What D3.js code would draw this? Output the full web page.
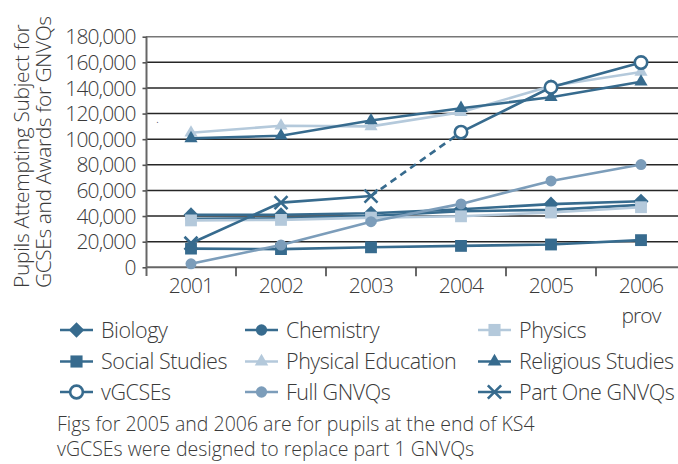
<!DOCTYPE html>
<html>
<meta http-equiv="content-type" content="text/html; charset=utf-8" />
<head>
  <title>Pupils attempting subjects</title>
</head>
<style>
body { margin: 0; background: #fff; }
svg text { font-family: "Open Sans", sans-serif; font-weight: 300; fill: #3a3a3a; }
.grid line { stroke: #262626; stroke-width: 1.6; }
.sline { fill: none; stroke-width: 2.6; }
</style>
<body>
<svg class="chart" width="678" height="464"></svg>
<script src="https://d3js.org/d3.v7.min.js"></script>
<script type="text/javascript">
// years on the x axis
var years = ["2001", "2002", "2003", "2004", "2005", "2006"];
var yTicks = [0, 20000, 40000, 60000, 80000, 100000, 120000, 140000, 160000, 180000];

var biology      = [40900, 41000, 42200, 45300, 49300, 51500];
var chemistry    = [37800, 38300, 40100, 43800, 44800, 48700];
var physics      = [36600, 37000, 38800, 39800, 42800, 46900];
var socialStud   = [14600, 14200, 15600, 16700, 17800, 21200];
var physicalEd   = [105000, 110500, 110000, 121000, 141500, 152500];
var religious    = [100600, 102700, 114600, 124200, 132800, 144800];
var vGCSEs       = [null, null, null, 105500, 140500, 159800];
var fullGNVQs    = [2700, 17400, 35600, 49500, 67400, 80200];
var partOneGNVQs = [18800, 50500, 55600, null, null, null];

var dark = "#376b8e", mid = "#7c9dba", light = "#b4c9db";

var series = [
  {name: "Biology", values: biology, color: dark, marker: "diamond"},
  {name: "Chemistry", values: chemistry, color: dark, marker: "circle"},
  {name: "Physics", values: physics, color: light, marker: "square"},
  {name: "Social Studies", values: socialStud, color: dark, marker: "square"},
  {name: "Physical Education", values: physicalEd, color: light, marker: "triangle"},
  {name: "Religious Studies", values: religious, color: dark, marker: "triangle"},
  {name: "vGCSEs", values: vGCSEs, color: dark, marker: "open"},
  {name: "Full GNVQs", values: fullGNVQs, color: mid, marker: "circle"},
  {name: "Part One GNVQs", values: partOneGNVQs, color: dark, marker: "cross"}
];

var svg = d3.select(".chart");

var x = d3.scaleBand().domain(years).range([146, 686]);
var y = d3.scaleLinear().domain([0, 180000]).range([267.3, 36.7]);
function cx(i) { return x(years[i]) + x.bandwidth() / 2; }

// grid lines
svg.append("g").attr("class", "grid")
  .selectAll("line").data(yTicks.slice(1)).enter()
  .append("line")
    .attr("x1", 146).attr("x2", 690)
    .attr("y1", function(d) { return y(d); })
    .attr("y2", function(d) { return y(d); })
    .style("stroke", function(d) { return d === 180000 ? "#777" : null; });

// y axis
var yAxis = d3.axisLeft(y).tickValues(yTicks).tickSize(4).tickSizeOuter(0)
  .tickFormat(d3.format(","));
var gy = svg.append("g").attr("transform", "translate(146.5,0)").call(yAxis);
gy.select(".domain").attr("stroke", "#666").attr("stroke-width", 2).attr("d", "M0,36.7V276");
gy.selectAll(".tick line").attr("stroke", "#555").attr("stroke-width", 1.6);
gy.selectAll(".tick text").attr("x", -11).attr("dy", "0.34em")
  .style("font-size", "21px").style("letter-spacing", "-0.9px");

// x axis with ticks between the years
var xAxis = d3.axisBottom(x).tickSize(0);
var gx = svg.append("g").attr("transform", "translate(0,267.3)").call(xAxis);
gx.select(".domain").attr("stroke", "#666").attr("stroke-width", 2).attr("d", "M146,0H690");
gx.selectAll(".tick text").attr("y", 11).attr("dy", "0.71em")
  .style("font-size", "21px").style("letter-spacing", "-0.9px");
gx.selectAll(".sep").data(years.slice(1)).enter()
  .append("line").attr("class", "sep")
    .attr("x1", function(d) { return x(d); }).attr("x2", function(d) { return x(d); })
    .attr("y1", 0).attr("y2", 9)
    .attr("stroke", "#444").attr("stroke-width", 1.6);
svg.append("text")
  .attr("x", cx(5)).attr("y", 323)
  .attr("text-anchor", "middle")
  .style("font-size", "21px").style("letter-spacing", "-0.9px")
  .text("prov");

// y title
svg.append("text")
  .attr("transform", "translate(29,288) rotate(-90)")
  .style("font-size", "21px").style("letter-spacing", "-0.35px")
  .text("Pupils Attempting Subject for");
svg.append("text")
  .attr("transform", "translate(51,288) rotate(-90)")
  .style("font-size", "21px").style("letter-spacing", "-0.45px")
  .text("GCSEs and Awards for GNVQs");
svg.append("text").attr("x", 156).attr("y", 123).style("font-size", "12px").text(".");

// marker drawing
function drawMarker(g, type, color, px, py, scale) {
  scale = scale || 1;
  var sym;
  if (type === "diamond") sym = d3.symbol().type(d3.symbolSquare).size(115 * scale);
  if (type === "square") sym = d3.symbol().type(d3.symbolSquare).size(140 * scale);
  if (type === "circle") sym = d3.symbol().type(d3.symbolCircle).size(95 * scale);
  if (type === "triangle") sym = d3.symbol().type(d3.symbolTriangle).size(75 * scale);
  if (type === "open") {
    g.append("circle").attr("cx", px).attr("cy", py).attr("r", 6.2 * Math.sqrt(scale))
      .style("fill", "#fff").style("stroke", color).style("stroke-width", 2.6);
    return;
  }
  if (type === "cross") {
    var s = 6.5 * Math.sqrt(scale);
    g.append("path")
      .attr("d", "M" + (px - s) + "," + (py - s) + "L" + (px + s) + "," + (py + s) +
                 "M" + (px - s) + "," + (py + s) + "L" + (px + s) + "," + (py - s))
      .style("stroke", color).style("stroke-width", 2.6).style("fill", "none");
    return;
  }
  var rot = type === "diamond" ? " rotate(45)" : "";
  g.append("path").attr("d", sym())
    .attr("transform", "translate(" + px + "," + py + ")" + rot)
    .style("fill", color).style("stroke", "none");
}

var line = d3.line()
  .defined(function(d) { return d != null; })
  .x(function(d, i) { return cx(i); })
  .y(function(d) { return y(d); });

// dashed link between part one GNVQs 2003 and vGCSEs 2004
svg.append("line")
  .attr("x1", cx(2)).attr("y1", y(partOneGNVQs[2]))
  .attr("x2", cx(3)).attr("y2", y(vGCSEs[3]))
  .attr("stroke", dark).attr("stroke-width", 2.6)
  .attr("stroke-dasharray", "7,5");

series.forEach(function(s) {
  var g = svg.append("g");
  g.append("path").attr("class", "sline").datum(s.values).attr("d", line).attr("stroke", s.color);
  s.values.forEach(function(v, i) {
    if (v != null) drawMarker(g, s.marker, s.color, cx(i), y(v));
  });
});

// legend
var legX = [60, 245, 478];
var legY = [330, 361.5, 392];
series.forEach(function(s, i) {
  var lx = legX[i % 3], ly = legY[Math.floor(i / 3)];
  var g = svg.append("g");
  g.append("path").attr("class", "sline").attr("d", "M" + lx + "," + ly + "H" + (lx + 33))
    .attr("stroke", s.color);
  drawMarker(g, s.marker, s.color, lx + 16.5, ly, 1.05);
  svg.append("text")
    .attr("x", lx + 41).attr("y", ly).attr("dy", "0.36em")
    .style("font-size", "21.5px").style("letter-spacing", "-0.45px")
    .text(s.name);
});

// notes
var notes = ["Figs for 2005 and 2006 are for pupils at the end of KS4",
             "vGCSEs were designed to replace part 1 GNVQs"];
svg.selectAll(".note").data(notes).enter()
  .append("text").attr("class", "note")
    .attr("x", 57).attr("y", function(d, i) { return 431 + i * 25; })
    .style("font-size", "19.5px").style("letter-spacing", "0px")
    .text(function(d) { return d; });
</script>
</body>
</html>
